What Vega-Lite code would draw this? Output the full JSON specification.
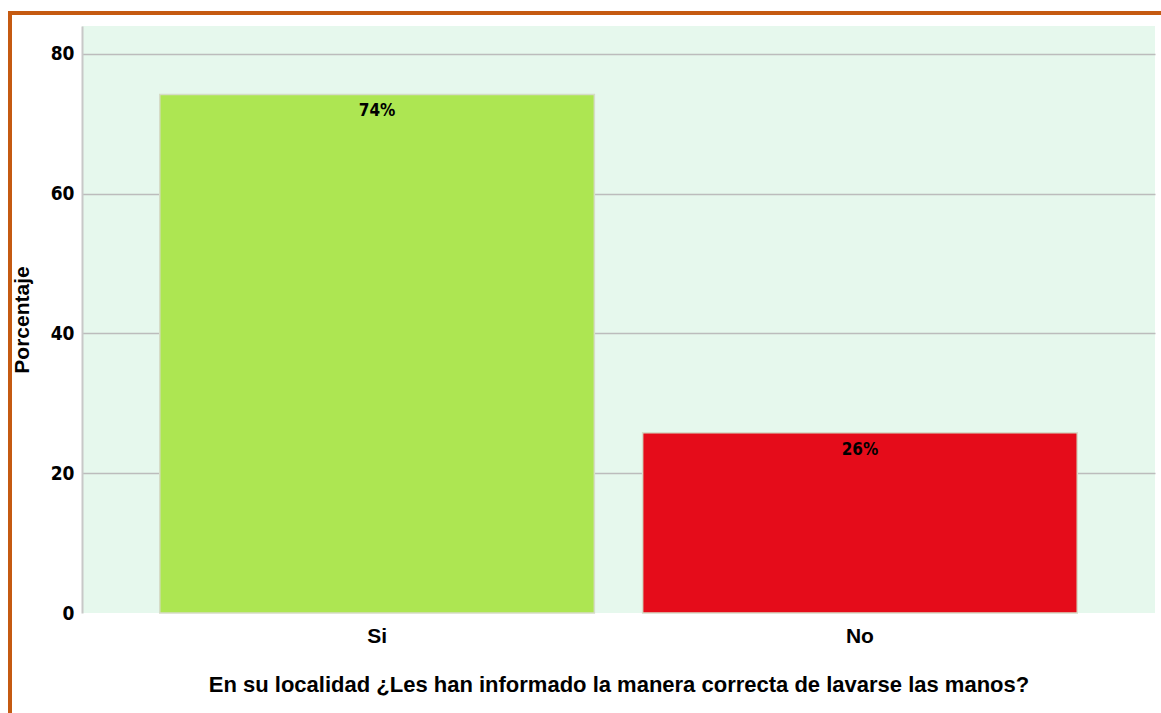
{
  "$schema": "https://vega.github.io/schema/vega-lite/v6.json",
  "width": 1073,
  "height": 587,
  "autosize": {"type": "none"},
  "padding": {"left": 82, "top": 26, "right": 6, "bottom": 100},
  "background": "white",
  "config": {
    "view": {"fill": "#e6f8ed", "stroke": null},
    "font": "Liberation Sans"
  },
  "layer": [
    {
      "data": {
        "values": [
          {"respuesta": "Si", "porcentaje": 74.2, "etiqueta": "74%"},
          {"respuesta": "No", "porcentaje": 25.8, "etiqueta": "26%"}
        ]
      },
      "encoding": {
        "x": {
          "field": "respuesta",
          "type": "nominal",
          "sort": ["Si", "No"],
          "scale": {"paddingInner": 0.1, "paddingOuter": 0.161},
          "axis": {
            "title": "En su localidad ¿Les han informado la manera correcta de lavarse las manos?",
            "titleFontSize": 22,
            "titleFontWeight": 600,
            "titleColor": "#000000",
            "titlePadding": 28,
            "labelAngle": 0,
            "labelFontSize": 21,
            "labelFontWeight": 600,
            "labelColor": "#000000",
            "labelPadding": 12,
            "ticks": false,
            "domain": false,
            "grid": false
          }
        },
        "y": {
          "field": "porcentaje",
          "type": "quantitative",
          "scale": {"domain": [0, 84], "nice": false},
          "axis": {
            "title": "Porcentaje",
            "titleFontSize": 21,
            "titleFontWeight": 600,
            "titleColor": "#000000",
            "titlePadding": 18,
            "values": [0, 20, 40, 60, 80],
            "labelFont": "DejaVu Sans Condensed, Liberation Sans Narrow, Liberation Sans",
            "labelFontSize": 19,
            "labelFontWeight": "bold",
            "labelColor": "#000000",
            "labelPadding": 8,
            "ticks": false,
            "domainColor": "#c8c8c8",
            "domainWidth": 2,
            "grid": true,
            "gridColor": {"condition": {"test": "datum.value === 0", "value": "transparent"}, "value": "#bcbcbc"},
            "gridWidth": 1.5
          }
        }
      },
      "layer": [
        {
          "mark": {"type": "bar", "stroke": "#d6dcc8", "strokeWidth": 1.5},
          "encoding": {
            "color": {
              "field": "respuesta",
              "type": "nominal",
              "scale": {"domain": ["Si", "No"], "range": ["#ade652", "#e50c1a"]},
              "legend": null
            }
          }
        },
        {
          "mark": {
            "type": "text",
            "baseline": "middle",
            "dy": 17,
            "font": "DejaVu Sans Condensed, Liberation Sans Narrow, Liberation Sans",
            "fontSize": 17,
            "fontWeight": "bold",
            "color": "#000000"
          },
          "encoding": {
            "text": {"field": "etiqueta"}
          }
        }
      ]
    },
    {
      "data": {"values": [{}]},
      "mark": {"type": "rect", "fill": null, "stroke": "#c55a11", "strokeWidth": 4},
      "encoding": {
        "x": {"datum": -0.0671, "type": "quantitative", "scale": {"domain": [0, 1], "nice": false, "zero": false}, "axis": null},
        "x2": {"datum": 1.1},
        "y": {"datum": 1.02215, "type": "quantitative", "scale": {"domain": [0, 1], "nice": false, "zero": false}, "axis": null},
        "y2": {"datum": -0.3}
      }
    }
  ],
  "resolve": {"scale": {"x": "independent", "y": "independent"}, "axis": {"x": "independent", "y": "independent"}}
}
